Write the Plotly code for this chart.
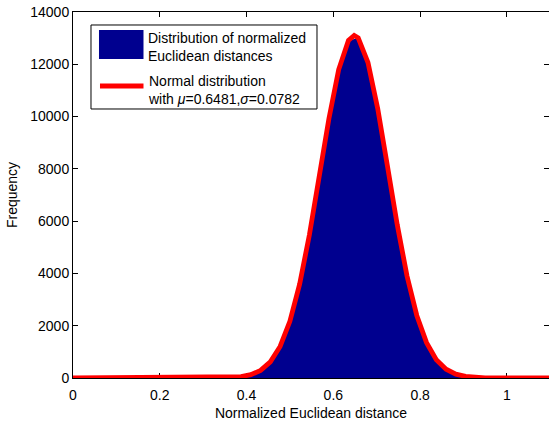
import plotly.graph_objects as go

# ---------------- data ----------------
bin_centers = [0.3648, 0.3873, 0.4098, 0.4323, 0.4548, 0.4773, 0.4998, 0.5223,
               0.5448, 0.5673, 0.5898, 0.6123, 0.6348, 0.6573, 0.6798, 0.7023,
               0.7248, 0.7473, 0.7698, 0.7923, 0.8148, 0.8373, 0.8598, 0.8823,
               0.9048, 0.9273, 0.9498]
bin_counts = [18, 50, 126, 291, 617, 1206, 2169, 3591,
              5474, 7682, 9922, 11797, 12911, 13010, 12066, 10303,
              8098, 5860, 3903, 2393, 1351, 702, 336, 148,
              60, 22, 8]

fit_x = [0.0, 0.3648, 0.3873, 0.4098, 0.4323, 0.4548, 0.4773, 0.4998, 0.5223,
         0.5448, 0.5673, 0.5898, 0.6123, 0.6348, 0.6481, 0.6573, 0.6798, 0.7023,
         0.7248, 0.7473, 0.7698, 0.7923, 0.8148, 0.8373, 0.8598, 0.8823,
         0.9048, 0.9273, 0.9498, 1.1]
fit_y = [0, 18, 50, 126, 291, 617, 1206, 2169, 3591,
         5474, 7682, 9922, 11797, 12911, 13100, 13010, 12066, 10303,
         8098, 5860, 3903, 2393, 1351, 702, 336, 148,
         60, 22, 8, 0]

x_ticks = [0, 0.2, 0.4, 0.6, 0.8, 1.0]
x_tick_labels = ["0", "0.2", "0.4", "0.6", "0.8", "1"]
y_ticks = [0, 2000, 4000, 6000, 8000, 10000, 12000, 14000]

hist_name = "Distribution of normalized<br>Euclidean distances"
fit_name = "Normal distribution<br>with <i>μ</i>=0.6481,<i>σ</i>=0.0782"

BAR_COLOR = "#00008F"
FIT_COLOR = "#FF0000"
FONT = "Liberation Sans, Arial, sans-serif"
FS = 14

fig = go.Figure()

# histogram (drawn as its filled outline)
fig.add_trace(go.Scatter(
    x=[bin_centers[0]] + bin_centers + [bin_centers[-1]],
    y=[0] + bin_counts + [0],
    mode="lines", fill="toself", fillcolor=BAR_COLOR,
    line=dict(width=0, color=BAR_COLOR), showlegend=False, hoverinfo="skip"))

# fitted normal curve
fig.add_trace(go.Scatter(
    x=fit_x, y=fit_y, mode="lines",
    line=dict(color=FIT_COLOR, width=4.8),
    cliponaxis=False, showlegend=False))

axis_common = dict(showline=True, linecolor="black", linewidth=1, mirror="ticks",
                   ticks="inside", ticklen=5, tickcolor="black", showgrid=False,
                   zeroline=False, layer="below traces", ticklabeloverflow="allow",
                   tickfont=dict(family=FONT, size=FS, color="black"))

fig.update_xaxes(range=[0, 1.097], tickvals=x_ticks, ticktext=x_tick_labels,
                 ticklabelstandoff=4,
                 title=dict(text="Normalized Euclidean distance",
                            font=dict(family=FONT, size=FS, color="black"), standoff=6),
                 **axis_common)
fig.update_yaxes(range=[0, 14000], tickvals=y_ticks, tickformat="d",
                 title=dict(text="Frequency",
                            font=dict(family=FONT, size=FS, color="black"), standoff=9),
                 **axis_common)

# custom MATLAB-style legend
shapes = [
    dict(type="rect", xref="paper", yref="paper", x0=0.0378, x1=0.5126, y0=0.735, y1=0.9645,
         line=dict(color="black", width=1), fillcolor="white", layer="above"),
    dict(type="rect", xref="paper", yref="paper", x0=0.0546, x1=0.1481, y0=0.8716, y1=0.9508,
         line=dict(color=BAR_COLOR, width=0), fillcolor=BAR_COLOR, layer="above"),
    dict(type="line", xref="paper", yref="paper", x0=0.0567, x1=0.1481, y0=0.7978, y1=0.7978,
         line=dict(color=FIT_COLOR, width=4.8), layer="above"),
]
annotations = [
    dict(text=hist_name, xref="paper", yref="paper", x=0.153, y=0.904,
         xanchor="left", yanchor="middle", align="left", showarrow=False,
         font=dict(family=FONT, size=FS, color="black")),
    dict(text=fit_name, xref="paper", yref="paper", x=0.153, y=0.787,
         xanchor="left", yanchor="middle", align="left", showarrow=False,
         font=dict(family=FONT, size=FS, color="black")),
]

fig.update_layout(width=549, height=421,
                  margin=dict(l=73, r=0, t=12, b=43, autoexpand=False),
                  paper_bgcolor="white", plot_bgcolor="white",
                  shapes=shapes, annotations=annotations,
                  font=dict(family=FONT, size=FS, color="black"),
                  showlegend=False)

# remove the default page margin so the figure sits at the window's top-left corner
fig.write_html("out.html", config={"displayModeBar": False},
               post_script="document.body.style.margin='0';")
